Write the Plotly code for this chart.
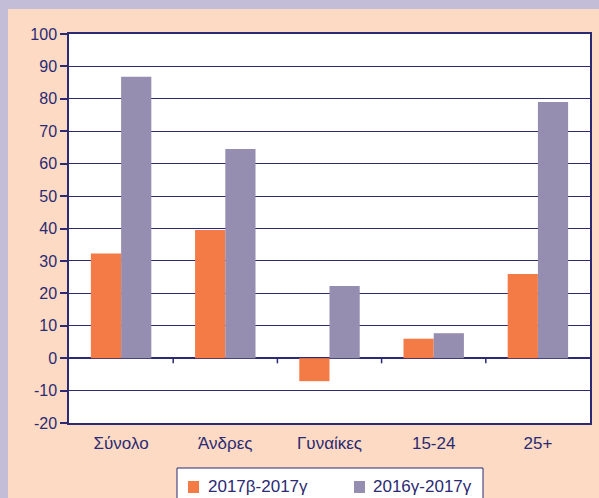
import plotly.graph_objects as go

categories = ["Σύνολο", "Άνδρες", "Γυναίκες", "15-24", "25+"]
series_a_name = "2017β-2017γ"
series_a = [32.3, 39.5, -7.1, 6.0, 26.0]
series_b_name = "2016γ-2017γ"
series_b = [86.8, 64.5, 22.3, 7.7, 79.0]
y_ticks = list(range(-20, 101, 10))

NAVY = "#2B2A72"
PEACH = "#FCDAC4"
LAV = "#C3BDD7"
ORANGE = "#F47A46"
PURPLE = "#968EB0"
FONT = "Liberation Sans, Arial, sans-serif"

fig = go.Figure()
fig.add_trace(go.Bar(x=categories, y=series_a, name=series_a_name,
                     marker=dict(color=ORANGE, line=dict(width=0))))
fig.add_trace(go.Bar(x=categories, y=series_b, name=series_b_name,
                     marker=dict(color=PURPLE, line=dict(width=0))))

L, R, T, B = 69, 9, 34, 75
W, H = 599, 498
pw, ph = W - L - R, H - T - B


def px(x):
    return (x - L) / pw


def py(y):
    return (T + ph - y) / ph


shapes = []
annotations = []
# lavender strips (left and top)
shapes.append(dict(type="rect", xref="paper", yref="paper", layer="below",
                   x0=px(0), x1=px(8), y0=py(H), y1=py(0),
                   fillcolor=LAV, line=dict(width=0)))
shapes.append(dict(type="rect", xref="paper", yref="paper", layer="below",
                   x0=px(0), x1=px(W), y0=py(9), y1=py(0),
                   fillcolor=LAV, line=dict(width=0)))
# category separator ticks on the zero line
for i in range(len(categories) - 1):
    shapes.append(dict(type="line", xref="x", yref="y", layer="above",
                       x0=i + 0.5, x1=i + 0.5, y0=0, y1=-1.6,
                       line=dict(color=NAVY, width=1.5)))

# manual legend (kept from pushing the margins)
shapes.append(dict(type="rect", xref="paper", yref="paper", layer="above",
                   x0=px(177), x1=px(483), y0=py(510), y1=py(468),
                   fillcolor="white", line=dict(color=NAVY, width=1)))
legend_items = [(series_a_name, ORANGE, 188, 206), (series_b_name, PURPLE, 354, 371)]
for name, col, sx, tx in legend_items:
    shapes.append(dict(type="rect", xref="paper", yref="paper", layer="above",
                       x0=px(sx), x1=px(sx + 11), y0=py(493), y1=py(481),
                       fillcolor=col, line=dict(width=0)))
    annotations.append(dict(text=name, xref="paper", yref="paper", showarrow=False,
                            x=px(tx), y=py(486.5), xanchor="left", yanchor="middle",
                            font=dict(family=FONT, size=17, color=NAVY)))

fig.update_layout(
    width=W, height=H,
    margin=dict(l=L, r=R, t=T, b=B, pad=0, autoexpand=False),
    paper_bgcolor=PEACH, plot_bgcolor="white",
    barmode="group", bargap=0.42, bargroupgap=0,
    font=dict(family=FONT, size=16, color=NAVY),
    shapes=shapes, annotations=annotations,
    showlegend=False,
)
fig.update_yaxes(range=[-20, 100], tickvals=y_ticks, ticktext=[str(v) for v in y_ticks],
                 showgrid=True, gridcolor=NAVY, gridwidth=1.2,
                 zeroline=True, zerolinecolor=NAVY, zerolinewidth=1.5,
                 showline=True, linecolor=NAVY, linewidth=1.5, mirror=True,
                 ticks="outside", ticklen=7, tickcolor=NAVY, tickwidth=1.5,
                 tickfont=dict(size=16, color=NAVY), fixedrange=True)
fig.update_xaxes(showline=True, linecolor=NAVY, linewidth=1.5, mirror=True,
                 ticks="", showgrid=False, tickfont=dict(size=17, color=NAVY),
                 ticklabelstandoff=4)

fig.write_html("out.html", config={"displayModeBar": False},
               post_script="document.body.style.margin='0';document.body.style.overflow='hidden';")
